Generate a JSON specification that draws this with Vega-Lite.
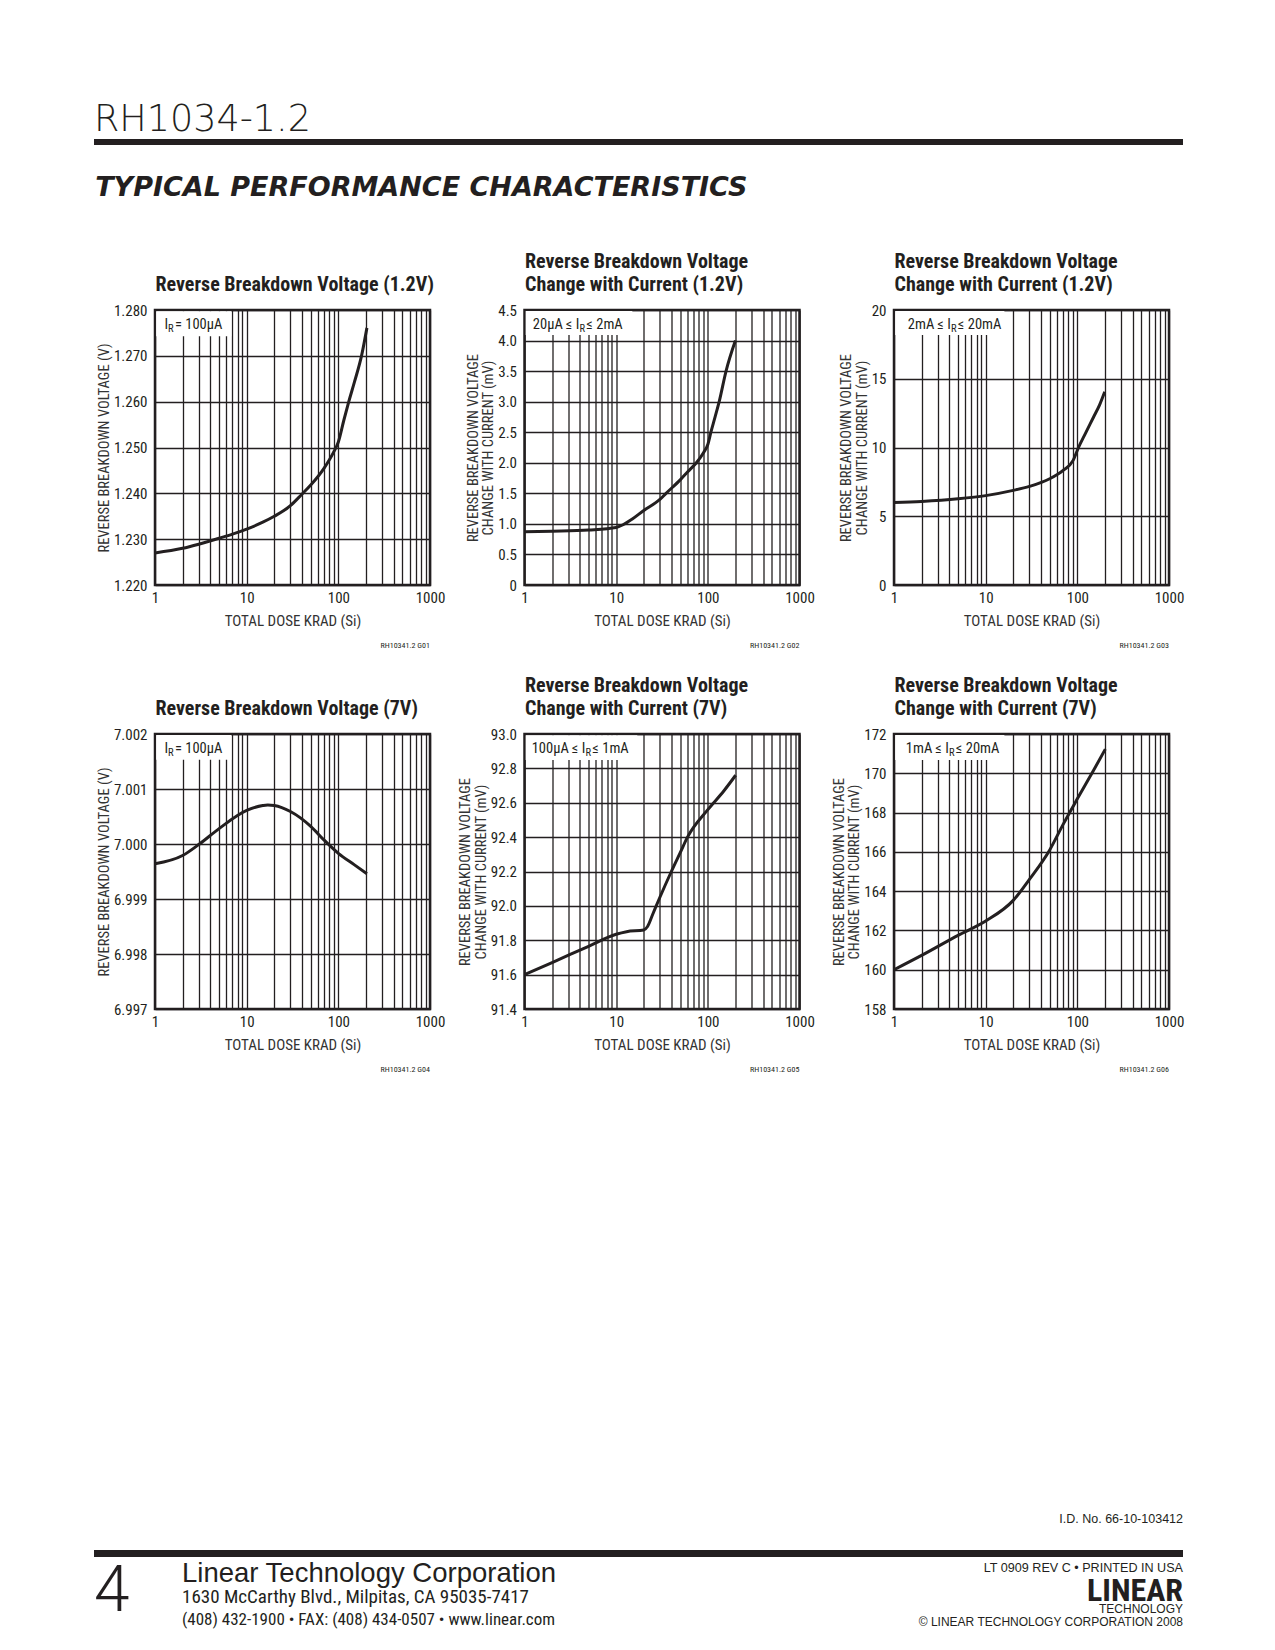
{
  "$schema": "https://vega.github.io/schema/vega-lite/v6.json",
  "padding": {"left": 94, "top": 101, "right": 5, "bottom": 5},
  "background": "white",
  "spacing": 28,
  "config": {
    "view": {"stroke": "#231f20", "strokeWidth": 2.5},
    "font": "Liberation Sans Narrow, Roboto Condensed, DejaVu Sans Condensed, sans-serif",
    "title": {"font": "Liberation Sans Narrow, Roboto Condensed, DejaVu Sans Condensed, sans-serif", "color": "#231f20", "fontWeight": "normal", "subtitleColor": "#231f20"},
    "axis": {
      "labelFont": "Liberation Sans Narrow, Roboto Condensed, DejaVu Sans Condensed, sans-serif",
      "labelFontSize": 15, "labelColor": "#231f20",
      "titleFont": "Liberation Sans Narrow, Roboto Condensed, DejaVu Sans Condensed, sans-serif",
      "titleFontSize": 14.5, "titleFontWeight": "normal", "titleColor": "#333333",
      "gridColor": "#231f20", "gridWidth": 1.3, "gridOpacity": 1
    },
    "axisY": {"ticks": false, "domain": false, "grid": true, "labelPadding": 8, "titlePadding": 2, "labelOverlap": false, "titleLineHeight": 15.5}
  },
  "vconcat": [
    {
      "width": 1089, "height": 6,
      "view": {"fill": "#231f20", "stroke": null},
      "title": {"text": "RH1034-1.2", "orient": "top", "anchor": "start", "frame": "group", "offset": 1, "font": "DejaVu Sans", "fontSize": 36.5, "fontWeight": 200, "color": "#231f20"},
      "data": {"values": []},
      "mark": {"type": "text"},
      "encoding": {}
    },
    {
      "spacing": 0,
      "hconcat": [
        {
          "width": 1, "height": 1,
          "view": {"stroke": null},
          "data": {"values": []},
          "mark": {"type": "text"},
          "encoding": {}
        },
        {
          "columns": 3,
          "bounds": "flush",
          "align": "each",
          "spacing": {"column": 94.5, "row": 149},
          "title": {"text": "TYPICAL PERFORMANCE CHARACTERISTICS", "anchor": "start", "offset": 48, "font": "DejaVu Sans", "fontSize": 27, "fontWeight": "bold", "fontStyle": "italic", "color": "#231f20"},
          "concat": [
            {
              "width": 275, "height": 275,
              "title": {"text": "RH10341.2 G01", "orient": "bottom", "anchor": "end", "frame": "group", "offset": 14, "fontSize": 8},
              "layer": [
                {
                  "data": {"values": [
                    {"dose": 1, "v": 1.2270}, {"dose": 2, "v": 1.2280}, {"dose": 3, "v": 1.2289}, {"dose": 5, "v": 1.2302},
                    {"dose": 7, "v": 1.2311}, {"dose": 10, "v": 1.2322}, {"dose": 15, "v": 1.2337}, {"dose": 20, "v": 1.2350},
                    {"dose": 30, "v": 1.2373}, {"dose": 40, "v": 1.2398}, {"dose": 50, "v": 1.2418}, {"dose": 70, "v": 1.2455},
                    {"dose": 90, "v": 1.2492}, {"dose": 100, "v": 1.2512}, {"dose": 115, "v": 1.2560}, {"dose": 130, "v": 1.2600},
                    {"dose": 150, "v": 1.2643}, {"dose": 180, "v": 1.2702}, {"dose": 205, "v": 1.2761}
                  ]},
                  "mark": {"type": "line", "interpolate": "monotone", "strokeWidth": 3, "color": "#231f20"},
                  "encoding": {
                    "x": {"field": "dose", "type": "quantitative", "scale": {"type": "log", "domain": [1, 1000], "nice": false},
                      "axis": {"values": [1,2,3,4,5,6,7,8,9,10,20,30,40,50,60,70,80,90,100,200,300,400,500,600,700,800,900,1000], "tickCount": 40, "format": "d", "labelExpr": "datum.value == 1 || datum.value == 10 || datum.value == 100 || datum.value == 1000 ? datum.label : ''", "grid": true, "ticks": false, "domain": false, "labelFlush": false, "labelOverlap": false, "labelBound": false, "labelPadding": 5, "title": "TOTAL DOSE KRAD (Si)", "titleFontSize": 15, "titlePadding": 8}},
                    "y": {"field": "v", "type": "quantitative", "scale": {"domain": [1.22, 1.28], "nice": false, "zero": false},
                      "axis": {"values": [1.22, 1.23, 1.24, 1.25, 1.26, 1.27, 1.28], "tickCount": 20, "format": ".3f", "labelOverlap": false, "title": "REVERSE BREAKDOWN VOLTAGE (V)"}}
                  }
                },
                {
                  "data": {"values": [{"box": "IR"}]},
                  "mark": {"type": "rect", "color": "white"},
                  "encoding": {
                    "x": {"datum": 1.03, "axis": {"orient": "top", "title": "Reverse Breakdown Voltage (1.2V)", "labels": false, "ticks": false, "domain": false, "grid": false, "titleAnchor": "start", "titleAlign": "left", "titleFontSize": 20, "titleFontWeight": "bold", "titleColor": "#231f20", "titlePadding": 16, "titleLineHeight": 23}},
                    "x2": {"datum": 6.8},
                    "y": {"datum": 1.27975}, "y2": {"datum": 1.2743}
                  }
                },
                {
                  "data": {"values": [{"box": "IR"}]},
                  "mark": {"type": "text", "align": "right", "baseline": "alphabetic", "dx": 13, "dy": 19, "fontSize": 14.5, "color": "#231f20"},
                  "encoding": {"x": {"datum": 1, "axis": null}, "y": {"datum": 1.28}, "text": {"value": "I"}}
                },
                {
                  "data": {"values": [{"box": "IR"}]},
                  "mark": {"type": "text", "align": "left", "baseline": "alphabetic", "dx": 13, "dy": 22, "fontSize": 10.5, "color": "#231f20"},
                  "encoding": {"x": {"datum": 1, "axis": null}, "y": {"datum": 1.28}, "text": {"value": "R"}}
                },
                {
                  "data": {"values": [{"box": "IR"}]},
                  "mark": {"type": "text", "align": "left", "baseline": "alphabetic", "dx": 20, "dy": 19, "fontSize": 14.5, "color": "#231f20"},
                  "encoding": {"x": {"datum": 1, "axis": null}, "y": {"datum": 1.28}, "text": {"value": " = 100µA"}}
                }
              ],
              "resolve": {"axis": {"x": "independent"}}
            },
            {
              "width": 275, "height": 275,
              "title": {"text": "RH10341.2 G02", "orient": "bottom", "anchor": "end", "frame": "group", "offset": 14, "fontSize": 8},
              "layer": [
                {
                  "data": {"values": [
                    {"dose": 1, "v": 0.87}, {"dose": 2, "v": 0.88}, {"dose": 5, "v": 0.90}, {"dose": 10, "v": 0.94},
                    {"dose": 12, "v": 0.99}, {"dose": 15, "v": 1.08}, {"dose": 20, "v": 1.22}, {"dose": 30, "v": 1.40},
                    {"dose": 35, "v": 1.50}, {"dose": 50, "v": 1.72}, {"dose": 60, "v": 1.85}, {"dose": 75, "v": 2.00},
                    {"dose": 90, "v": 2.17}, {"dose": 100, "v": 2.30}, {"dose": 108, "v": 2.50}, {"dose": 120, "v": 2.75},
                    {"dose": 133, "v": 3.00}, {"dose": 158, "v": 3.50}, {"dose": 200, "v": 4.00}
                  ]},
                  "mark": {"type": "line", "interpolate": "monotone", "strokeWidth": 3, "color": "#231f20"},
                  "encoding": {
                    "x": {"field": "dose", "type": "quantitative", "scale": {"type": "log", "domain": [1, 1000], "nice": false},
                      "axis": {"values": [1,2,3,4,5,6,7,8,9,10,20,30,40,50,60,70,80,90,100,200,300,400,500,600,700,800,900,1000], "tickCount": 40, "format": "d", "labelExpr": "datum.value == 1 || datum.value == 10 || datum.value == 100 || datum.value == 1000 ? datum.label : ''", "grid": true, "ticks": false, "domain": false, "labelFlush": false, "labelOverlap": false, "labelBound": false, "labelPadding": 5, "title": "TOTAL DOSE KRAD (Si)", "titleFontSize": 15, "titlePadding": 8}},
                    "y": {"field": "v", "type": "quantitative", "scale": {"domain": [0, 4.5], "nice": false, "zero": false},
                      "axis": {"values": [0, 0.5, 1, 1.5, 2, 2.5, 3, 3.5, 4, 4.5], "tickCount": 20, "labelExpr": "datum.value == 0 ? '0' : format(datum.value, '.1f')", "labelOverlap": false, "title": ["REVERSE BREAKDOWN VOLTAGE", "CHANGE WITH CURRENT (mV)"]}}
                  }
                },
                {
                  "data": {"values": [{"box": "IR"}]},
                  "mark": {"type": "rect", "color": "white"},
                  "encoding": {
                    "x": {"datum": 1.03, "axis": {"orient": "top", "title": ["Reverse Breakdown Voltage", "Change with Current (1.2V)"], "labels": false, "ticks": false, "domain": false, "grid": false, "titleAnchor": "start", "titleAlign": "left", "titleFontSize": 20, "titleFontWeight": "bold", "titleColor": "#231f20", "titlePadding": 16, "titleLineHeight": 23}},
                    "x2": {"datum": 15},
                    "y": {"datum": 4.483}, "y2": {"datum": 4.09}
                  }
                },
                {
                  "data": {"values": [{"box": "IR"}]},
                  "mark": {"type": "text", "align": "right", "baseline": "alphabetic", "dx": 55, "dy": 19, "fontSize": 14.5, "color": "#231f20"},
                  "encoding": {"x": {"datum": 1, "axis": null}, "y": {"datum": 4.5}, "text": {"value": "20µA ≤ I"}}
                },
                {
                  "data": {"values": [{"box": "IR"}]},
                  "mark": {"type": "text", "align": "left", "baseline": "alphabetic", "dx": 55, "dy": 22, "fontSize": 10.5, "color": "#231f20"},
                  "encoding": {"x": {"datum": 1, "axis": null}, "y": {"datum": 4.5}, "text": {"value": "R"}}
                },
                {
                  "data": {"values": [{"box": "IR"}]},
                  "mark": {"type": "text", "align": "left", "baseline": "alphabetic", "dx": 62, "dy": 19, "fontSize": 14.5, "color": "#231f20"},
                  "encoding": {"x": {"datum": 1, "axis": null}, "y": {"datum": 4.5}, "text": {"value": " ≤ 2mA"}}
                }
              ],
              "resolve": {"axis": {"x": "independent"}}
            },
            {
              "width": 275, "height": 275,
              "title": {"text": "RH10341.2 G03", "orient": "bottom", "anchor": "end", "frame": "group", "offset": 14, "fontSize": 8},
              "layer": [
                {
                  "data": {"values": [
                    {"dose": 1, "v": 6.0}, {"dose": 2, "v": 6.08}, {"dose": 5, "v": 6.27}, {"dose": 10, "v": 6.5},
                    {"dose": 20, "v": 6.88}, {"dose": 30, "v": 7.17}, {"dose": 50, "v": 7.73}, {"dose": 70, "v": 8.34},
                    {"dose": 90, "v": 9.06}, {"dose": 103, "v": 10.0}, {"dose": 120, "v": 10.9}, {"dose": 150, "v": 12.2},
                    {"dose": 175, "v": 13.1}, {"dose": 199, "v": 14.05}
                  ]},
                  "mark": {"type": "line", "interpolate": "monotone", "strokeWidth": 3, "color": "#231f20"},
                  "encoding": {
                    "x": {"field": "dose", "type": "quantitative", "scale": {"type": "log", "domain": [1, 1000], "nice": false},
                      "axis": {"values": [1,2,3,4,5,6,7,8,9,10,20,30,40,50,60,70,80,90,100,200,300,400,500,600,700,800,900,1000], "tickCount": 40, "format": "d", "labelExpr": "datum.value == 1 || datum.value == 10 || datum.value == 100 || datum.value == 1000 ? datum.label : ''", "grid": true, "ticks": false, "domain": false, "labelFlush": false, "labelOverlap": false, "labelBound": false, "labelPadding": 5, "title": "TOTAL DOSE KRAD (Si)", "titleFontSize": 15, "titlePadding": 8}},
                    "y": {"field": "v", "type": "quantitative", "scale": {"domain": [0, 20], "nice": false, "zero": false},
                      "axis": {"values": [0, 5, 10, 15, 20], "tickCount": 20, "format": "d", "labelOverlap": false, "title": ["REVERSE BREAKDOWN VOLTAGE", "CHANGE WITH CURRENT (mV)"]}}
                  }
                },
                {
                  "data": {"values": [{"box": "IR"}]},
                  "mark": {"type": "rect", "color": "white"},
                  "encoding": {
                    "x": {"datum": 1.03, "axis": {"orient": "top", "title": ["Reverse Breakdown Voltage", "Change with Current (1.2V)"], "labels": false, "ticks": false, "domain": false, "grid": false, "titleAnchor": "start", "titleAlign": "left", "titleFontSize": 20, "titleFontWeight": "bold", "titleColor": "#231f20", "titlePadding": 16, "titleLineHeight": 23}},
                    "x2": {"datum": 16},
                    "y": {"datum": 19.93}, "y2": {"datum": 18.18}
                  }
                },
                {
                  "data": {"values": [{"box": "IR"}]},
                  "mark": {"type": "text", "align": "right", "baseline": "alphabetic", "dx": 57, "dy": 19, "fontSize": 14.5, "color": "#231f20"},
                  "encoding": {"x": {"datum": 1, "axis": null}, "y": {"datum": 20}, "text": {"value": "2mA ≤ I"}}
                },
                {
                  "data": {"values": [{"box": "IR"}]},
                  "mark": {"type": "text", "align": "left", "baseline": "alphabetic", "dx": 57, "dy": 22, "fontSize": 10.5, "color": "#231f20"},
                  "encoding": {"x": {"datum": 1, "axis": null}, "y": {"datum": 20}, "text": {"value": "R"}}
                },
                {
                  "data": {"values": [{"box": "IR"}]},
                  "mark": {"type": "text", "align": "left", "baseline": "alphabetic", "dx": 64, "dy": 19, "fontSize": 14.5, "color": "#231f20"},
                  "encoding": {"x": {"datum": 1, "axis": null}, "y": {"datum": 20}, "text": {"value": " ≤ 20mA"}}
                }
              ],
              "resolve": {"axis": {"x": "independent"}}
            },
            {
              "width": 275, "height": 275,
              "title": {"text": "RH10341.2 G04", "orient": "bottom", "anchor": "end", "frame": "group", "offset": 14, "fontSize": 8},
              "layer": [
                {
                  "data": {"values": [
                    {"dose": 1, "v": 6.99964}, {"dose": 2, "v": 6.99979}, {"dose": 3, "v": 6.99999}, {"dose": 5, "v": 7.00028},
                    {"dose": 10, "v": 7.00061}, {"dose": 15, "v": 7.00070}, {"dose": 17, "v": 7.00071}, {"dose": 20, "v": 7.00070},
                    {"dose": 30, "v": 7.00059}, {"dose": 50, "v": 7.00032}, {"dose": 70, "v": 7.00007}, {"dose": 100, "v": 6.99983},
                    {"dose": 150, "v": 6.99962}, {"dose": 205, "v": 6.99946}
                  ]},
                  "mark": {"type": "line", "interpolate": "monotone", "strokeWidth": 3, "color": "#231f20"},
                  "encoding": {
                    "x": {"field": "dose", "type": "quantitative", "scale": {"type": "log", "domain": [1, 1000], "nice": false},
                      "axis": {"values": [1,2,3,4,5,6,7,8,9,10,20,30,40,50,60,70,80,90,100,200,300,400,500,600,700,800,900,1000], "tickCount": 40, "format": "d", "labelExpr": "datum.value == 1 || datum.value == 10 || datum.value == 100 || datum.value == 1000 ? datum.label : ''", "grid": true, "ticks": false, "domain": false, "labelFlush": false, "labelOverlap": false, "labelBound": false, "labelPadding": 5, "title": "TOTAL DOSE KRAD (Si)", "titleFontSize": 15, "titlePadding": 8}},
                    "y": {"field": "v", "type": "quantitative", "scale": {"domain": [6.997, 7.002], "nice": false, "zero": false},
                      "axis": {"values": [6.997, 6.998, 6.999, 7.0, 7.001, 7.002], "tickCount": 20, "format": ".3f", "labelOverlap": false, "title": "REVERSE BREAKDOWN VOLTAGE (V)"}}
                  }
                },
                {
                  "data": {"values": [{"box": "IR"}]},
                  "mark": {"type": "rect", "color": "white"},
                  "encoding": {
                    "x": {"datum": 1.03, "axis": {"orient": "top", "title": "Reverse Breakdown Voltage (7V)", "labels": false, "ticks": false, "domain": false, "grid": false, "titleAnchor": "start", "titleAlign": "left", "titleFontSize": 20, "titleFontWeight": "bold", "titleColor": "#231f20", "titlePadding": 16, "titleLineHeight": 23}},
                    "x2": {"datum": 6.8},
                    "y": {"datum": 7.00198}, "y2": {"datum": 7.00153}
                  }
                },
                {
                  "data": {"values": [{"box": "IR"}]},
                  "mark": {"type": "text", "align": "right", "baseline": "alphabetic", "dx": 13, "dy": 19, "fontSize": 14.5, "color": "#231f20"},
                  "encoding": {"x": {"datum": 1, "axis": null}, "y": {"datum": 7.002}, "text": {"value": "I"}}
                },
                {
                  "data": {"values": [{"box": "IR"}]},
                  "mark": {"type": "text", "align": "left", "baseline": "alphabetic", "dx": 13, "dy": 22, "fontSize": 10.5, "color": "#231f20"},
                  "encoding": {"x": {"datum": 1, "axis": null}, "y": {"datum": 7.002}, "text": {"value": "R"}}
                },
                {
                  "data": {"values": [{"box": "IR"}]},
                  "mark": {"type": "text", "align": "left", "baseline": "alphabetic", "dx": 20, "dy": 19, "fontSize": 14.5, "color": "#231f20"},
                  "encoding": {"x": {"datum": 1, "axis": null}, "y": {"datum": 7.002}, "text": {"value": " = 100µA"}}
                }
              ],
              "resolve": {"axis": {"x": "independent"}}
            },
            {
              "width": 275, "height": 275,
              "title": {"text": "RH10341.2 G05", "orient": "bottom", "anchor": "end", "frame": "group", "offset": 14, "fontSize": 8},
              "layer": [
                {
                  "data": {"values": [
                    {"dose": 1, "v": 91.60}, {"dose": 2, "v": 91.67}, {"dose": 5, "v": 91.765}, {"dose": 10, "v": 91.835},
                    {"dose": 13, "v": 91.85}, {"dose": 20, "v": 91.86}, {"dose": 22, "v": 91.88}, {"dose": 25, "v": 91.95},
                    {"dose": 30, "v": 92.05}, {"dose": 40, "v": 92.2}, {"dose": 50, "v": 92.31}, {"dose": 60, "v": 92.40},
                    {"dose": 100, "v": 92.56}, {"dose": 150, "v": 92.67}, {"dose": 201, "v": 92.76}
                  ]},
                  "mark": {"type": "line", "interpolate": "monotone", "strokeWidth": 3, "color": "#231f20"},
                  "encoding": {
                    "x": {"field": "dose", "type": "quantitative", "scale": {"type": "log", "domain": [1, 1000], "nice": false},
                      "axis": {"values": [1,2,3,4,5,6,7,8,9,10,20,30,40,50,60,70,80,90,100,200,300,400,500,600,700,800,900,1000], "tickCount": 40, "format": "d", "labelExpr": "datum.value == 1 || datum.value == 10 || datum.value == 100 || datum.value == 1000 ? datum.label : ''", "grid": true, "ticks": false, "domain": false, "labelFlush": false, "labelOverlap": false, "labelBound": false, "labelPadding": 5, "title": "TOTAL DOSE KRAD (Si)", "titleFontSize": 15, "titlePadding": 8}},
                    "y": {"field": "v", "type": "quantitative", "scale": {"domain": [91.4, 93.0], "nice": false, "zero": false},
                      "axis": {"values": [91.4, 91.6, 91.8, 92.0, 92.2, 92.4, 92.6, 92.8, 93.0], "tickCount": 20, "format": ".1f", "labelOverlap": false, "title": ["REVERSE BREAKDOWN VOLTAGE", "CHANGE WITH CURRENT (mV)"]}}
                  }
                },
                {
                  "data": {"values": [{"box": "IR"}]},
                  "mark": {"type": "rect", "color": "white"},
                  "encoding": {
                    "x": {"datum": 1.03, "axis": {"orient": "top", "title": ["Reverse Breakdown Voltage", "Change with Current (7V)"], "labels": false, "ticks": false, "domain": false, "grid": false, "titleAnchor": "start", "titleAlign": "left", "titleFontSize": 20, "titleFontWeight": "bold", "titleColor": "#231f20", "titlePadding": 16, "titleLineHeight": 23}},
                    "x2": {"datum": 17},
                    "y": {"datum": 92.993}, "y2": {"datum": 92.849}
                  }
                },
                {
                  "data": {"values": [{"box": "IR"}]},
                  "mark": {"type": "text", "align": "right", "baseline": "alphabetic", "dx": 61, "dy": 19, "fontSize": 14.5, "color": "#231f20"},
                  "encoding": {"x": {"datum": 1, "axis": null}, "y": {"datum": 93.0}, "text": {"value": "100µA ≤ I"}}
                },
                {
                  "data": {"values": [{"box": "IR"}]},
                  "mark": {"type": "text", "align": "left", "baseline": "alphabetic", "dx": 61, "dy": 22, "fontSize": 10.5, "color": "#231f20"},
                  "encoding": {"x": {"datum": 1, "axis": null}, "y": {"datum": 93.0}, "text": {"value": "R"}}
                },
                {
                  "data": {"values": [{"box": "IR"}]},
                  "mark": {"type": "text", "align": "left", "baseline": "alphabetic", "dx": 68, "dy": 19, "fontSize": 14.5, "color": "#231f20"},
                  "encoding": {"x": {"datum": 1, "axis": null}, "y": {"datum": 93.0}, "text": {"value": " ≤ 1mA"}}
                }
              ],
              "resolve": {"axis": {"x": "independent"}}
            },
            {
              "width": 275, "height": 275,
              "title": {"text": "RH10341.2 G06", "orient": "bottom", "anchor": "end", "frame": "group", "offset": 14, "fontSize": 8},
              "layer": [
                {
                  "data": {"values": [
                    {"dose": 1, "v": 160.0}, {"dose": 2, "v": 160.73}, {"dose": 5, "v": 161.75}, {"dose": 10, "v": 162.48},
                    {"dose": 20, "v": 163.53}, {"dose": 30, "v": 164.6}, {"dose": 50, "v": 166.1}, {"dose": 70, "v": 167.4},
                    {"dose": 100, "v": 168.7}, {"dose": 150, "v": 170.14}, {"dose": 202, "v": 171.23}
                  ]},
                  "mark": {"type": "line", "interpolate": "monotone", "strokeWidth": 3, "color": "#231f20"},
                  "encoding": {
                    "x": {"field": "dose", "type": "quantitative", "scale": {"type": "log", "domain": [1, 1000], "nice": false},
                      "axis": {"values": [1,2,3,4,5,6,7,8,9,10,20,30,40,50,60,70,80,90,100,200,300,400,500,600,700,800,900,1000], "tickCount": 40, "format": "d", "labelExpr": "datum.value == 1 || datum.value == 10 || datum.value == 100 || datum.value == 1000 ? datum.label : ''", "grid": true, "ticks": false, "domain": false, "labelFlush": false, "labelOverlap": false, "labelBound": false, "labelPadding": 5, "title": "TOTAL DOSE KRAD (Si)", "titleFontSize": 15, "titlePadding": 8}},
                    "y": {"field": "v", "type": "quantitative", "scale": {"domain": [158, 172], "nice": false, "zero": false},
                      "axis": {"values": [158, 160, 162, 164, 166, 168, 170, 172], "tickCount": 20, "format": "d", "labelOverlap": false, "title": ["REVERSE BREAKDOWN VOLTAGE", "CHANGE WITH CURRENT (mV)"]}}
                  }
                },
                {
                  "data": {"values": [{"box": "IR"}]},
                  "mark": {"type": "rect", "color": "white"},
                  "encoding": {
                    "x": {"datum": 1.03, "axis": {"orient": "top", "title": ["Reverse Breakdown Voltage", "Change with Current (7V)"], "labels": false, "ticks": false, "domain": false, "grid": false, "titleAnchor": "start", "titleAlign": "left", "titleFontSize": 20, "titleFontWeight": "bold", "titleColor": "#231f20", "titlePadding": 16, "titleLineHeight": 23}},
                    "x2": {"datum": 16},
                    "y": {"datum": 171.95}, "y2": {"datum": 170.68}
                  }
                },
                {
                  "data": {"values": [{"box": "IR"}]},
                  "mark": {"type": "text", "align": "right", "baseline": "alphabetic", "dx": 55, "dy": 19, "fontSize": 14.5, "color": "#231f20"},
                  "encoding": {"x": {"datum": 1, "axis": null}, "y": {"datum": 172}, "text": {"value": "1mA ≤ I"}}
                },
                {
                  "data": {"values": [{"box": "IR"}]},
                  "mark": {"type": "text", "align": "left", "baseline": "alphabetic", "dx": 55, "dy": 22, "fontSize": 10.5, "color": "#231f20"},
                  "encoding": {"x": {"datum": 1, "axis": null}, "y": {"datum": 172}, "text": {"value": "R"}}
                },
                {
                  "data": {"values": [{"box": "IR"}]},
                  "mark": {"type": "text", "align": "left", "baseline": "alphabetic", "dx": 62, "dy": 19, "fontSize": 14.5, "color": "#231f20"},
                  "encoding": {"x": {"datum": 1, "axis": null}, "y": {"datum": 172}, "text": {"value": " ≤ 20mA"}}
                }
              ],
              "resolve": {"axis": {"x": "independent"}}
            }
          ]
        }
      ]
    },
    {
      "width": 1089, "height": 380,
      "view": {"stroke": null},
      "data": {"values": []},
      "mark": {"type": "text"},
      "encoding": {}
    },
    {
      "spacing": 0,
      "vconcat": [
        {
          "width": 1089, "height": 7,
          "view": {"fill": "#231f20", "stroke": null},
          "title": {"text": "I.D. No. 66-10-103412", "orient": "top", "anchor": "end", "frame": "group", "offset": 25, "font": "Liberation Sans", "fontSize": 12.5},
          "data": {"values": []},
          "mark": {"type": "text"},
          "encoding": {}
        },
        {
          "spacing": 0,
          "hconcat": [
            {
              "width": 88, "height": 1,
              "view": {"stroke": null},
              "title": {"text": "4", "orient": "bottom", "anchor": "start", "frame": "group", "offset": 2, "font": "Roboto", "fontSize": 64, "fontWeight": 300},
              "data": {"values": []},
              "mark": {"type": "text"},
              "encoding": {}
            },
            {
              "spacing": 0,
              "vconcat": [
                {
                  "width": 380, "height": 1,
                  "view": {"stroke": null},
                  "title": {"text": "Linear Technology Corporation", "subtitle": "1630 McCarthy Blvd., Milpitas, CA 95035-7417", "orient": "bottom", "anchor": "start", "frame": "group", "offset": 2, "font": "Liberation Sans", "fontSize": 27.5, "subtitleFont": "Liberation Sans Narrow, Roboto Condensed, DejaVu Sans Condensed, sans-serif", "subtitleFontSize": 19, "subtitlePadding": 0},
                  "data": {"values": []},
                  "mark": {"type": "text"},
                  "encoding": {}
                },
                {
                  "width": 380, "height": 1,
                  "view": {"stroke": null},
                  "title": {"text": "(408) 432-1900 • FAX: (408) 434-0507 • www.linear.com", "orient": "bottom", "anchor": "start", "frame": "group", "offset": 4, "fontSize": 17},
                  "data": {"values": []},
                  "mark": {"type": "text"},
                  "encoding": {}
                }
              ]
            },
            {
              "spacing": 0,
              "vconcat": [
                {
                  "width": 621, "height": 1,
                  "view": {"stroke": null},
                  "title": {"text": "LT 0909 REV C • PRINTED IN USA", "orient": "bottom", "anchor": "end", "frame": "group", "offset": 4, "font": "Liberation Sans", "fontSize": 12.6},
                  "data": {"values": []},
                  "mark": {"type": "text"},
                  "encoding": {}
                },
                {
                  "width": 621, "height": 1,
                  "view": {"stroke": null},
                  "title": {"text": "LINEAR", "subtitle": ["TECHNOLOGY", "© LINEAR TECHNOLOGY CORPORATION 2008"], "orient": "bottom", "anchor": "end", "frame": "group", "offset": -3, "fontSize": 32, "fontWeight": "bold", "subtitleFont": "Liberation Sans", "subtitleFontSize": 12, "subtitleLineHeight": 12.5, "subtitlePadding": -4},
                  "data": {"values": []},
                  "mark": {"type": "text"},
                  "encoding": {}
                }
              ]
            }
          ]
        }
      ]
    }
  ]
}
